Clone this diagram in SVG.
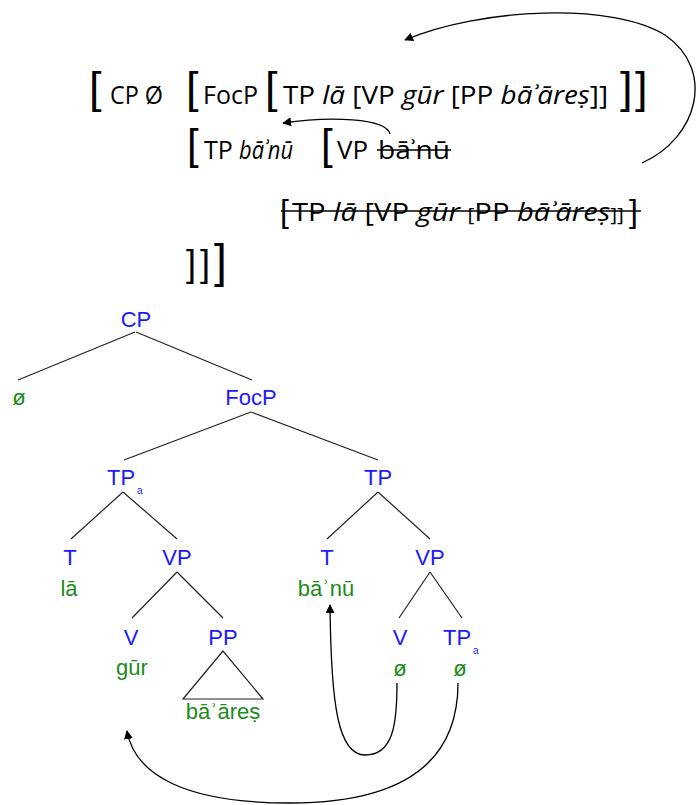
<svg xmlns="http://www.w3.org/2000/svg" width="697" height="805" viewBox="0 0 697 805">
<style>
.t{font-family:"Open Sans","Noto Sans",sans-serif;font-size:25px;fill:#000}
.i{font-style:italic}
.b{font-family:"Liberation Sans",sans-serif;fill:#000}
.n{font-family:"Liberation Sans",Arial,sans-serif;font-size:22px;fill:#1a1aff;text-anchor:middle}
.g{font-family:"Liberation Sans","DejaVu Sans",sans-serif;font-size:22px;fill:#1a8c1a;text-anchor:middle}
.s{font-family:"Liberation Sans",Arial,sans-serif;font-size:10px;fill:#1a1aff}
.e{stroke:#222;stroke-width:1.2;fill:none}
.a{stroke:#000;stroke-width:1.3;fill:none}
.st{stroke:#000;stroke-width:1.6}
</style>
<defs>
<marker id="ah" viewBox="0 0 10 10" refX="9" refY="5" markerWidth="9" markerHeight="9" markerUnits="userSpaceOnUse" orient="auto">
<path d="M0,0 L10,5 L0,10 z" fill="#000"/>
</marker>
</defs>

<g id="bracketing">
<text class="b" x="89" y="103" font-size="45">[</text>
<text class="t" x="110" y="104" textLength="53" lengthAdjust="spacingAndGlyphs">CP Ø</text>
<text class="b" x="186" y="103" font-size="45">[</text>
<text class="t" x="203" y="104" textLength="55" lengthAdjust="spacingAndGlyphs">FocP</text>
<text class="b" x="265" y="103" font-size="45">[</text>
<text class="t" x="283" y="104" textLength="325" lengthAdjust="spacingAndGlyphs">TP <tspan class="i">lā</tspan> [VP <tspan class="i">gūr</tspan> [PP <tspan class="i">bāʾāreṣ</tspan>]]</text>
<text class="b" x="620" y="103" font-size="45">]</text>
<text class="b" x="635" y="103" font-size="45">]</text>

<text class="b" x="187" y="159" font-size="42">[</text>
<text class="t" x="204" y="159">TP</text>
<text class="t i" x="239" y="159" textLength="54" lengthAdjust="spacingAndGlyphs">bāʾnū</text>
<text class="b" x="321" y="159" font-size="42">[</text>
<text class="t" x="337" y="159" textLength="31" lengthAdjust="spacingAndGlyphs">VP</text>
<text class="t" x="378" y="159" textLength="72" lengthAdjust="spacingAndGlyphs">bāʾnū</text>
<line class="st" x1="377" y1="150" x2="451" y2="150"/>

<text class="b" x="280" y="222" font-size="32">[</text>
<text class="t" x="292" y="221" textLength="332" lengthAdjust="spacingAndGlyphs">TP <tspan class="i">lā</tspan> [VP <tspan class="i">gūr</tspan> <tspan font-size="18">[</tspan>PP <tspan class="i">bāʾāreṣ</tspan><tspan font-size="18">]]</tspan></text>
<text class="b" x="629" y="222" font-size="32">]</text>
<line class="st" x1="281" y1="211" x2="641" y2="211"/>

<text class="b" x="186" y="276" font-size="36">]</text>
<text class="b" x="200" y="276" font-size="36">]</text>
<text class="b" x="214" y="277" font-size="46">]</text>
</g>

<g id="connectors">
<path class="a" d="M642,163 C698,138 716,70 665,35 C612,2 480,8 405,40" marker-end="url(#ah)"/>
<path class="a" d="M390,134 C386,118 330,116 283,123" marker-end="url(#ah)"/>
<line class="e" x1="135" y1="332" x2="18" y2="380"/>
<line class="e" x1="136" y1="332" x2="252" y2="380"/>
<line class="e" x1="251" y1="412" x2="124" y2="460"/>
<line class="e" x1="251" y1="412" x2="378" y2="460"/>
<line class="e" x1="123" y1="492" x2="71" y2="539"/>
<line class="e" x1="123" y1="492" x2="177" y2="539"/>
<line class="e" x1="378" y1="492" x2="327" y2="539"/>
<line class="e" x1="378" y1="492" x2="430" y2="539"/>
<line class="e" x1="177" y1="572" x2="132" y2="618"/>
<line class="e" x1="177" y1="572" x2="223" y2="618"/>
<line class="e" x1="430" y1="572" x2="399" y2="618"/>
<line class="e" x1="430" y1="572" x2="462" y2="618"/>
<path class="e" d="M223,651 L183,699 L263,699 Z"/>
<path class="a" d="M397,683 C397,725 393,755 365,755 C338,755 331,705 330,605" marker-end="url(#ah)"/>
<path class="a" d="M458,683 C458,765 400,803 290,803 C185,803 135,775 127,731" marker-end="url(#ah)"/>
</g>

<g id="n-cp"><text class="n" x="136" y="327">CP</text></g>
<g id="n-null1"><text class="g" x="19" y="405">ø</text></g>
<g id="n-focp"><text class="n" x="251" y="405">FocP</text></g>
<g id="n-tpa"><text class="n" x="121" y="485">TP</text><text class="s" x="137" y="494">a</text></g>
<g id="n-tp"><text class="n" x="378" y="485">TP</text></g>
<g id="n-t1"><text class="n" x="70" y="565">T</text><text class="g" x="69" y="596">lā</text></g>
<g id="n-vp1"><text class="n" x="177" y="565">VP</text></g>
<g id="n-t2"><text class="n" x="327" y="565">T</text><text class="g" x="326" y="596">bāʾnū</text></g>
<g id="n-vp2"><text class="n" x="430" y="565">VP</text></g>
<g id="n-v1"><text class="n" x="131" y="645">V</text><text class="g" x="132" y="675">gūr</text></g>
<g id="n-pp"><text class="n" x="223" y="645">PP</text><text class="g" x="223" y="719">bāʾāreṣ</text></g>
<g id="n-v2"><text class="n" x="400" y="645">V</text><text class="g" x="400" y="676">ø</text></g>
<g id="n-tpa2"><text class="n" x="457" y="645">TP</text><text class="s" x="473" y="654">a</text><text class="g" x="460" y="676">ø</text></g>
</svg>
